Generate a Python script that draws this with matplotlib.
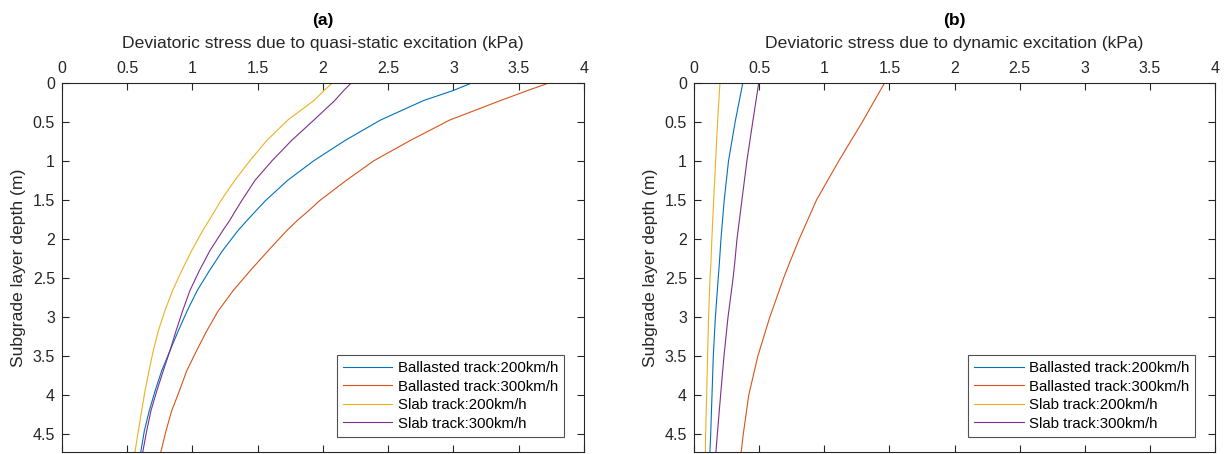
import numpy as np
import matplotlib.pyplot as plt

plt.rcParams['font.family'] = ['Liberation Sans', 'DejaVu Sans']

# (a) quasi-static excitation: depth (m) and deviatoric stress (kPa)
depth_a = [0, 0.1, 0.23, 0.48, 0.74, 1.0, 1.25, 1.51, 1.64, 1.77, 1.89, 2.15, 2.41,
           2.66, 2.92, 3.18, 3.43, 3.69, 3.95, 4.2, 4.46, 4.74]
qs_ballast_200 = [3.147, 3.0, 2.77, 2.44, 2.17, 1.93, 1.73, 1.56, 1.487, 1.415, 1.351, 1.231,
                  1.129, 1.037, 0.960, 0.891, 0.828, 0.764, 0.713, 0.669, 0.631, 0.603]
qs_ballast_300 = [3.74, 3.57, 3.36, 2.97, 2.67, 2.39, 2.18, 1.975, 1.89, 1.80, 1.725, 1.581,
                  1.441, 1.313, 1.198, 1.109, 1.032, 0.956, 0.899, 0.841, 0.797, 0.756]
qs_slab_200 = [2.074, 2.01, 1.93, 1.73, 1.57, 1.44, 1.325, 1.218, 1.172, 1.125, 1.08, 0.994,
               0.917, 0.848, 0.789, 0.738, 0.700, 0.667, 0.636, 0.611, 0.585, 0.559]
qs_slab_300 = [2.22, 2.16, 2.09, 1.93, 1.76, 1.61, 1.48, 1.378, 1.33, 1.283, 1.234, 1.134,
               1.052, 0.981, 0.925, 0.874, 0.828, 0.776, 0.726, 0.682, 0.649, 0.618]

# (b) dynamic excitation: depth (m) and deviatoric stress (kPa)
depth_b = [0, 0.5, 1.0, 1.5, 2.0, 2.3, 2.5, 3.0, 3.5, 4.0, 4.5, 4.73]
dy_ballast_200 = [0.375, 0.316, 0.265, 0.232, 0.207, 0.195, 0.186, 0.164, 0.148, 0.138, 0.128, 0.122]
dy_ballast_300 = [1.464, 1.293, 1.112, 0.941, 0.808, 0.735, 0.688, 0.582, 0.49, 0.42, 0.378, 0.362]
dy_slab_200 = [0.199, 0.181, 0.166, 0.151, 0.137, 0.13, 0.123, 0.112, 0.104, 0.097, 0.089, 0.087]
dy_slab_300 = [0.497, 0.451, 0.406, 0.368, 0.33, 0.313, 0.3, 0.261, 0.23, 0.204, 0.179, 0.168]

labels = ['Ballasted track:200km/h', 'Ballasted track:300km/h',
          'Slab track:200km/h', 'Slab track:300km/h']
colors = ['#0072BD', '#D95319', '#EDB120', '#7E2F8E']

fig = plt.figure(figsize=(12.29, 4.54), dpi=100)
ax1 = fig.add_axes([0.0504, 0.004, 0.4247, 0.814])
ax2 = fig.add_axes([0.5647, 0.004, 0.4240, 0.814])

panels = [
    (ax1, depth_a, [qs_ballast_200, qs_ballast_300, qs_slab_200, qs_slab_300],
     'Deviatoric stress due to quasi-static excitation (kPa)', '(a)'),
    (ax2, depth_b, [dy_ballast_200, dy_ballast_300, dy_slab_200, dy_slab_300],
     'Deviatoric stress due to dynamic excitation (kPa)', '(b)'),
]

for ax, depth, series, xlab, title in panels:
    for s, c, lab in zip(series, colors, labels):
        ax.plot(s, depth, color=c, lw=0.8, label=lab)
    ax.set_xlim(0, 4)
    ax.set_ylim(4.73, 0)
    ax.set_xticks(np.arange(0, 4.01, 0.5))
    ax.set_xticklabels(['0', '0.5', '1', '1.5', '2', '2.5', '3', '3.5', '4'])
    ax.set_yticks(np.arange(0, 4.51, 0.5))
    ax.set_yticklabels(['0', '0.5', '1', '1.5', '2', '2.5', '3', '3.5', '4', '4.5'])
    ax.xaxis.set_label_position('top')
    ax.tick_params(axis='both', direction='in', top=True, bottom=True, left=True, right=True,
                   labeltop=True, labelbottom=False, labelsize=11.5, colors='#262626',
                   length=5, width=0.8, pad=5)
    for sp in ax.spines.values():
        sp.set_color('#262626')
        sp.set_linewidth(0.8)
    ax.set_xlabel(xlab, fontsize=12.6, color='#262626', labelpad=9)
    ax.set_ylabel('Subgrade layer depth (m)', fontsize=12.6, color='#262626', labelpad=5)
    ax.set_title(title, fontsize=12.5, fontweight='bold', pad=8)
    leg = ax.legend(loc='lower right', bbox_to_anchor=(0.962, 0.042), borderaxespad=0,
                    fontsize=10.8, frameon=True, fancybox=False, handlelength=3.3,
                    handletextpad=0.35, labelspacing=0.3, borderpad=0.4)
    leg.get_frame().set_edgecolor('#262626')
    leg.get_frame().set_linewidth(0.8)

plt.savefig('out.png', dpi=100)
